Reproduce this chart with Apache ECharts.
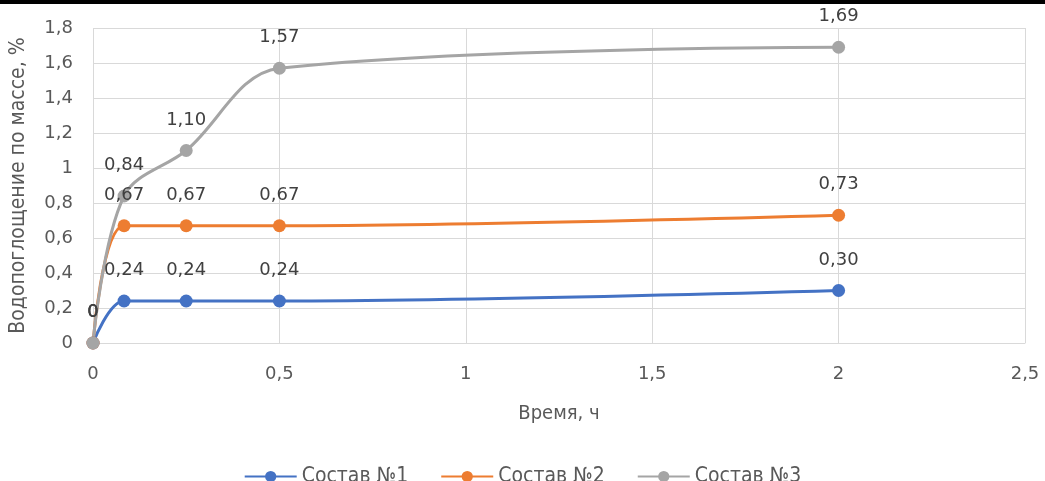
<!DOCTYPE html>
<html>
<head>
<meta charset="utf-8">
<script src="https://cdn.jsdelivr.net/npm/echarts@6/dist/echarts.min.js"></script>
<style>
  html, body { margin: 0; padding: 0; background: #ffffff; }
  #bar { position: absolute; left: 0; top: 0; width: 1045px; height: 4px; background: #000; }
  #chart { position: absolute; left: 0; top: 0; width: 1045px; height: 481px; }
</style>
</head>
<body>
<div id="chart"></div>
<div id="bar"></div>
<script>
// Time of immersion, hours
const hours = [0, 1 / 12, 0.25, 0.5, 2];
// Water absorption by mass, %
const mix1 = [0, 0.24, 0.24, 0.24, 0.30];
const mix2 = [0, 0.67, 0.67, 0.67, 0.73];
const mix3 = [0, 0.84, 1.10, 1.57, 1.69];
const seriesNames = ['Состав №1', 'Состав №2', 'Состав №3'];
const colors = ['#4472c4', '#ed7d31', '#a5a5a5'];

const numFont = "'DejaVu Sans', sans-serif";
const narrowFont = "'DejaVu Sans Condensed', 'Liberation Sans', sans-serif";

const comma = v => String(v).replace('.', ',');
const fmtLabel = p => {
  const v = p.value[1];
  return v === 0 ? '0' : v.toFixed(2).replace('.', ',');
};

function makeSeries(name, values, color) {
  return {
    name: name,
    type: 'line',
    smooth: 0.35,
    data: hours.map((h, i) => [h, values[i]]),
    symbol: 'circle',
    symbolSize: 13,
    lineStyle: { width: 3, color: color },
    itemStyle: { color: color },
    label: {
      show: true,
      position: 'top',
      distance: 15,
      formatter: fmtLabel,
      color: '#404040',
      fontFamily: numFont,
      fontSize: 18
    }
  };
}

const chart = echarts.init(document.getElementById('chart'), null, { renderer: 'canvas' });
chart.setOption({
  animation: false,
  backgroundColor: '#ffffff',
  color: colors,
  grid: { left: 91, right: 20, top: 28, bottom: 138, containLabel: false },
  xAxis: {
    type: 'value',
    min: 0, max: 2.5, interval: 0.5,
    name: 'Время, ч',
    nameLocation: 'middle',
    nameGap: 61,
    nameTextStyle: { color: '#595959', fontSize: 20, fontFamily: narrowFont },
    axisLine: { show: true, lineStyle: { color: '#d9d9d9', width: 1 } },
    axisTick: { show: false },
    axisLabel: { color: '#595959', fontSize: 18, fontFamily: numFont, margin: 22, formatter: comma },
    splitLine: { show: true, lineStyle: { color: '#d9d9d9', width: 1 } }
  },
  yAxis: {
    type: 'value',
    min: 0, max: 1.8, interval: 0.2,
    name: 'Водопоглощение по массе, %',
    nameLocation: 'middle',
    nameGap: 64,
    nameRotate: 90,
    nameTextStyle: { color: '#595959', fontSize: 21, fontFamily: narrowFont },
    axisLine: { show: false },
    axisTick: { show: false },
    axisLabel: { color: '#595959', fontSize: 18, fontFamily: numFont, margin: 20, formatter: v => comma(+v.toFixed(1)) },
    splitLine: { show: true, lineStyle: { color: '#d9d9d9', width: 1 } }
  },
  legend: {
    bottom: -11,
    left: 'center',
    itemGap: 32,
    itemWidth: 52,
    itemHeight: 14,
    textStyle: { color: '#595959', fontSize: 21, fontFamily: narrowFont },
    data: seriesNames
  },
  series: [
    makeSeries(seriesNames[0], mix1, colors[0]),
    makeSeries(seriesNames[1], mix2, colors[1]),
    makeSeries(seriesNames[2], mix3, colors[2])
  ]
});
</script>
</body>
</html>
